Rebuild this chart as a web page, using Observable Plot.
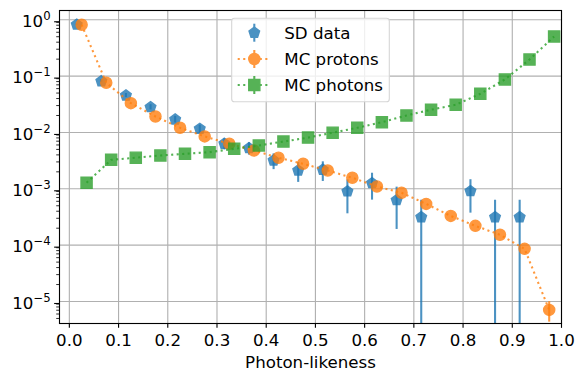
<!DOCTYPE html>
<html><head><meta charset="utf-8">
<script src="https://cdn.jsdelivr.net/npm/d3@7"></script>
<script src="https://cdn.jsdelivr.net/npm/@observablehq/plot@0.6"></script>
<style>
html,body{margin:0;padding:0;background:#fff;}
#chart{position:relative;width:584px;height:384px;}
</style></head><body><div id="chart"></div>
<script>
// ---- data ----
const seriesNames = ["SD data", "MC protons", "MC photons"];
const sdX   = [0.015,0.065,0.115,0.165,0.215,0.265,0.315,0.365,0.415,0.465,0.515,0.565,0.615,0.665,0.715,0.815,0.865,0.915];
const sdY   = [0.82,0.081,0.0453,0.0281,0.017,0.0116,0.0063,0.00526,0.00318,0.00211,0.00218,0.00090,0.00126,0.00063,0.000313,0.00091,0.000313,0.000313];
const sdErr = [0.016,0.005,0.0038,0.003,0.0023,0.0019,0.0014,0.0013,0.00099,0.00081,0.00083,0.00054,0.00063,0.00044,0.000313,0.00054,0.000313,0.000313];
const protonX = [0.025,0.075,0.125,0.175,0.225,0.275,0.325,0.375,0.425,0.475,0.525,0.575,0.625,0.675,0.725,0.775,0.825,0.875,0.925,0.975];
const protonY = [0.815,0.0762,0.0331,0.0192,0.0121,0.0085,0.0063,0.00479,0.00356,0.00278,0.00211,0.00157,0.0011,0.00085,0.00054,0.00033,0.00022,0.000153,0.000086,0.0000071];
const protonErr = [0,0,0,0,0,0,0,0,0,0,0,0,0,0,0,0,0,0,0,0.0000028];
const photonX = [0.035,0.085,0.135,0.185,0.235,0.285,0.335,0.385,0.435,0.485,0.535,0.585,0.635,0.685,0.735,0.785,0.835,0.885,0.935,0.985];
const photonY = [0.00128,0.00327,0.00356,0.0039,0.00418,0.00447,0.00513,0.00587,0.0069,0.0081,0.0099,0.0121,0.0152,0.0200,0.0253,0.031,0.0486,0.0872,0.197,0.505];
const photonErr = [0,0,0,0,0,0,0,0,0,0,0,0,0,0,0,0,0,0,0,0];
const xTicks = [0,0.1,0.2,0.3,0.4,0.5,0.6,0.7,0.8,0.9,1.0];
const yMajor = [1e-5,1e-4,1e-3,1e-2,1e-1,1];
const yDomain = [4.07e-6, 1.46];
const xDomain = [-0.02, 1.0];

// ---- styles ----
const blue = "#1f77b4", orange = "#ff7f0e", green = "#2ca02c";
const alpha = 0.8;
const msR = 5.56;          // marker half size (8pt)
const lw = 2.08;           // 1.5pt
const dotted = "2.08,3.44";
const FONT = "'DejaVu Sans', sans-serif";

const yMinor = [];
for (let e = -6; e <= 0; e++) for (let m = 2; m <= 9; m++) {
  const v = m * Math.pow(10, e);
  if (v >= yDomain[0] && v <= yDomain[1]) yMinor.push(v);
}

const pentagon = {draw(ctx, size) {
  const r = Math.sqrt(size / Math.PI);
  for (let k = 0; k < 5; k++) {
    const a = -Math.PI / 2 + k * 2 * Math.PI / 5;
    const px = r * Math.cos(a), py = r * Math.sin(a);
    if (k) ctx.lineTo(px, py); else ctx.moveTo(px, py);
  }
  ctx.closePath();
}};
const square = {draw(ctx, size) {
  const r = Math.sqrt(size / Math.PI);
  ctx.rect(-r, -r, 2 * r, 2 * r);
}};
const circle = {draw(ctx, size) {
  const r = Math.sqrt(size / Math.PI);
  ctx.moveTo(r, 0); ctx.arc(0, 0, r, 0, 2 * Math.PI);
}};

const mk = (xs, ys, es) => xs.map((x, i) => ({
  x, y: ys[i],
  lo: ys[i] - es[i] > 0 ? ys[i] - es[i] : 1e-12,
  hi: ys[i] + es[i]
}));
const sd = mk(sdX, sdY, sdErr);
const protons = mk(protonX, protonY, protonErr);
const photons = mk(photonX, photonY, photonErr);

const fmtY = d => "10^" + Math.round(Math.log10(d));

const gridStyle = {stroke: "#b0b0b0", strokeOpacity: 1, strokeWidth: 1.11};

const series = [
  {data: sd, color: blue, symbol: pentagon, line: false},
  {data: protons, color: orange, symbol: circle, line: true},
  {data: photons, color: green, symbol: square, line: true}
];
const dataMarks = [];
for (const s of series) {
  if (s.line) dataMarks.push(Plot.line(s.data, {x: "x", y: "y", stroke: s.color, strokeWidth: lw, strokeDasharray: dotted, strokeLinecap: "butt", opacity: alpha}));
  dataMarks.push(Plot.ruleX(s.data.filter(d => d.hi > d.y), {x: "x", y1: "lo", y2: "hi", stroke: s.color, strokeWidth: lw, opacity: alpha, clip: true}));
  dataMarks.push(Plot.dot(s.data, {x: "x", y: "y", symbol: s.symbol, r: msR, fill: s.color, stroke: s.color, strokeWidth: 1.39, opacity: alpha}));
}

const chart = Plot.plot({
  width: 584, height: 384,
  marginLeft: 59, marginRight: 23, marginTop: 10, marginBottom: 61,
  style: {fontFamily: FONT, fontSize: "16.67px", background: "white", color: "black", overflow: "visible"},
  x: {domain: xDomain, label: null},
  y: {type: "log", domain: yDomain, label: null},
  marks: [
    Plot.gridX(xTicks, gridStyle),
    Plot.gridY(yMajor, gridStyle),
    ...dataMarks,
    Plot.frame({stroke: "black", strokeWidth: 1.11}),
    Plot.axisX({ticks: xTicks, tickSize: 4.86, tickPadding: 5.6, tickFormat: d3.format(".1f"), label: "Photon-likeness", labelAnchor: "center", labelArrow: "none", labelOffset: 44, fontSize: "16.67px", strokeWidth: 1.11}),
    Plot.axisY({ticks: yMajor, tickSize: 4.86, tickPadding: 4, tickFormat: fmtY, label: null, fontSize: "16.67px", strokeWidth: 1.11, dy: 2}),
    Plot.axisY({ticks: yMinor, tickSize: 2.78, tickFormat: () => "", label: null, strokeWidth: 0.83})
  ]
});
document.getElementById("chart").appendChild(chart);

// render exponents as superscripts (mathtext-like)
const svgEl = chart.tagName.toLowerCase() === "svg" ? chart : chart.querySelector("svg");
const svg = d3.select(svgEl);
svg.selectAll("text").each(function() {
  const t = this.textContent;
  const m = /^10\^(-?\d+)$/.exec(t);
  if (!m) return;
  const el = d3.select(this);
  el.text("");
  el.append("tspan").text("10");
  el.append("tspan").attr("font-size", "11.7px").attr("dy", "-7").text(m[1].replace("-", "\u2212"));
});

// legend
const lg = svg.append("g").attr("class", "legend").attr("text-anchor", "start");
lg.append("rect").attr("x", 231.7).attr("y", 18.3).attr("width", 157.6).attr("height", 83.4)
  .attr("rx", 2.8).attr("ry", 2.8)
  .style("fill", "#ffffff").style("fill-opacity", 0.8).style("stroke", "#d6d6d6").style("stroke-width", "1.11px");
const rowsY = [32.7, 59, 85];
series.forEach((s, i) => {
  const y = rowsY[i];
  const g = lg.append("g").attr("opacity", alpha);
  if (s.line) g.append("line").attr("x1", 237.7).attr("x2", 270.7).attr("y1", y).attr("y2", y)
    .style("stroke", s.color).style("stroke-width", lw + "px").style("stroke-dasharray", dotted).style("stroke-linecap", "butt");
  g.append("line").attr("x1", 254.3).attr("x2", 254.3).attr("y1", y - 9).attr("y2", y + 9)
    .style("stroke", s.color).style("stroke-width", lw + "px");
  g.append("path").attr("transform", `translate(254.3,${y})`)
    .attr("d", d3.symbol(s.symbol, msR * msR * Math.PI)())
    .style("fill", s.color).style("stroke", s.color).style("stroke-width", "1.39px");
  lg.append("text").attr("x", 284.3).attr("y", y).attr("dy", "0.36em")
    .attr("text-anchor", "start")
    .style("font-family", FONT).style("font-size", "16.67px").style("fill", "black")
    .text(seriesNames[i]);
});
</script>
</body></html>
